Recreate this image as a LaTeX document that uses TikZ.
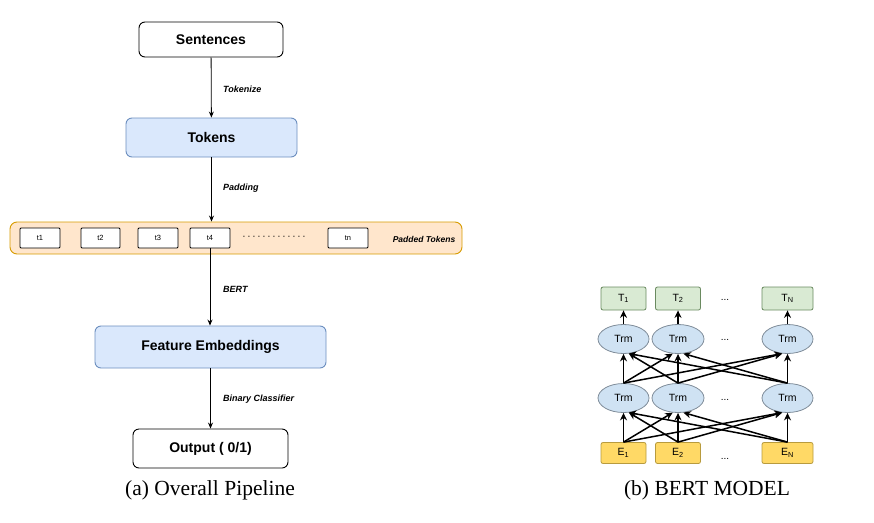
\documentclass[tikz,border=0pt]{standalone}
\usepackage{fontspec}
\setmainfont{Liberation Serif}
\setsansfont{Liberation Sans}
\usetikzlibrary{arrows.meta,shapes.geometric}
\definecolor{bluefill}{HTML}{DAE8FC}
\definecolor{blueline}{HTML}{6C8EBF}
\definecolor{orfill}{HTML}{FFE6CC}
\definecolor{orline}{HTML}{D79B00}
\definecolor{grfill}{HTML}{D9EAD3}
\definecolor{grline}{HTML}{6A8A60}
\definecolor{yefill}{HTML}{FFD966}
\definecolor{yeline}{HTML}{B89B3E}
\definecolor{trmfill}{HTML}{CFE2F3}
\definecolor{trmline}{HTML}{7F8C99}
\tikzset{
  pbox/.style={draw=black, line width=0.9pt, rounded corners=6pt, fill=white,
    inner sep=0pt, font=\fontsize{14}{14}\selectfont\sffamily\bfseries},
  bbox/.style={pbox, draw=blueline, fill=bluefill},
  tokbox/.style={draw=black, line width=0.8pt, rounded corners=1pt, fill=white,
    inner sep=0pt, minimum width=40pt, minimum height=20pt,
    font=\fontsize{7.5}{7.5}\selectfont\sffamily},
  lbl/.style={anchor=west, inner sep=0pt, font=\fontsize{9}{9}\selectfont\sffamily\bfseries\itshape},
  parr/.style={draw=black, line width=0.8pt, -{Stealth[length=6pt,width=5pt]}},
  tbox/.style={draw=grline, fill=grfill, line width=0.8pt, rounded corners=2pt,
    minimum width=45pt, minimum height=23pt, inner sep=0pt,
    font=\fontsize{10.5}{10.5}\selectfont\sffamily},
  ebox/.style={tbox, draw=yeline, fill=yefill, minimum height=21pt},
  trm/.style={ellipse, draw=trmline, fill=trmfill, line width=0.8pt,
    minimum width=51pt, minimum height=29pt, inner sep=0pt,
    font=\fontsize{10.5}{10.5}\selectfont\sffamily},
  barr/.style={draw=black, line width=1.5pt, -{Stealth[length=7.5pt,width=7pt]}},
  dots/.style={inner sep=0pt, font=\fontsize{10}{10}\selectfont\sffamily},
  capt/.style={inner sep=0pt, font=\fontsize{21.5}{21.5}\selectfont\rmfamily}
}
\begin{document}
\begin{tikzpicture}[x=1pt,y=-1pt]
\useasboundingbox (0,0) rectangle (874,522);
% ---- pipeline ----
\node[pbox, minimum width=144pt, minimum height=35pt] (sent) at (211,39.5) {Sentences};
\node[bbox, minimum width=171pt, minimum height=39pt] (tok) at (211.5,137.5) {Tokens};
\node[draw=orline, fill=orfill, line width=0.9pt, rounded corners=7pt,
      minimum width=452pt, minimum height=32pt, inner sep=0pt] (pad) at (236,238) {};
\node[tokbox] (t1) at (40,238) {t1};
\node[tokbox, minimum width=39pt] (t2) at (100.5,238) {t2};
\node[tokbox] (t3) at (158,238) {t3};
\node[tokbox] (t4) at (210,238) {t4};
\node[dots] (dd) at (274,238) {·\,·\,·\,·\,·\,·\,·\,·\,·\,·\,·\,·\,·};
\node[tokbox] (tn) at (348,238) {tn};
\node[inner sep=0pt, font=\fontsize{8.5}{8.5}\selectfont\sffamily\bfseries\itshape] (padl) at (424,239) {Padded Tokens};
\node[bbox, minimum width=231pt, minimum height=42pt] (feat) at (210.5,347) {Feature Embeddings};
\node[pbox, minimum width=155pt, minimum height=39pt] (out) at (210.5,448.5) {Output ( 0/1)};
\draw[parr] (sent) -- (tok);
\draw[parr] (tok.south) -- (tok.south |- pad.north);
\draw[parr] (t4) -- (t4 |- feat.north);
\draw[parr] (feat) -- (out);
\node[lbl] (l1) at (223,89) {Tokenize};
\node[lbl] (l2) at (223,188) {Padding};
\node[lbl] (l3) at (223,289) {BERT};
\node[lbl] (l4) at (223,399) {Binary Classifier};
\node[capt] (ca) at (210,490) {(a) Overall Pipeline};
% ---- BERT ----
\node[tbox] (T1) at (623.5,298.5) {T\textsubscript{1}};
\node[tbox] (T2) at (678,298.5) {T\textsubscript{2}};
\node[tbox, minimum width=51pt] (TN) at (787.5,298.5) {T\textsubscript{N}};
\node[dots] (Td) at (725,300) {...};
\node[trm] (U1) at (623.5,339) {Trm};
\node[trm, minimum width=52pt] (U2) at (678,339) {Trm};
\node[trm] (UN) at (787.5,339) {Trm};
\node[dots] (Ud) at (725,340) {...};
\node[trm] (L1) at (623.5,398) {Trm};
\node[trm, minimum width=52pt] (L2) at (678,398) {Trm};
\node[trm] (LN) at (787.5,398) {Trm};
\node[dots] (Ld) at (725,400) {...};
\node[ebox] (E1) at (623.5,453) {E\textsubscript{1}};
\node[ebox] (E2) at (678,453) {E\textsubscript{2}};
\node[ebox, minimum width=51pt] (EN) at (787.5,453) {E\textsubscript{N}};
\node[dots] (Ed) at (725,459) {...};
% E -> lower Trm
\draw[barr] (E1.north) -- (L1.south);
\draw[barr] (E2.north) -- (L1.-70);
\draw[barr] (EN.north) -- (L1.-70);
\draw[barr] (E1.north) -- (L2.-110);
\draw[barr] (E2.north) -- (L2.south);
\draw[barr] (EN.north) -- (L2.-70);
\draw[barr] (E1.north) -- (LN.-110);
\draw[barr] (E2.north) -- (LN.-110);
\draw[barr] (EN.north) -- (LN.south);
% lower Trm -> upper Trm
\draw[barr] (L1.north) -- (U1.south);
\draw[barr] (L2.north) -- (U1.-70);
\draw[barr] (LN.north) -- (U1.-70);
\draw[barr] (L1.north) -- (U2.-110);
\draw[barr] (L2.north) -- (U2.south);
\draw[barr] (LN.north) -- (U2.-70);
\draw[barr] (L1.north) -- (UN.-110);
\draw[barr] (L2.north) -- (UN.-110);
\draw[barr] (LN.north) -- (UN.south);
% upper Trm -> T
\draw[barr] (U1) -- (T1);
\draw[barr] (U2) -- (T2);
\draw[barr] (UN) -- (TN);
\node[capt] (cb) at (707,490) {(b) BERT MODEL};
\end{tikzpicture}
\end{document}
